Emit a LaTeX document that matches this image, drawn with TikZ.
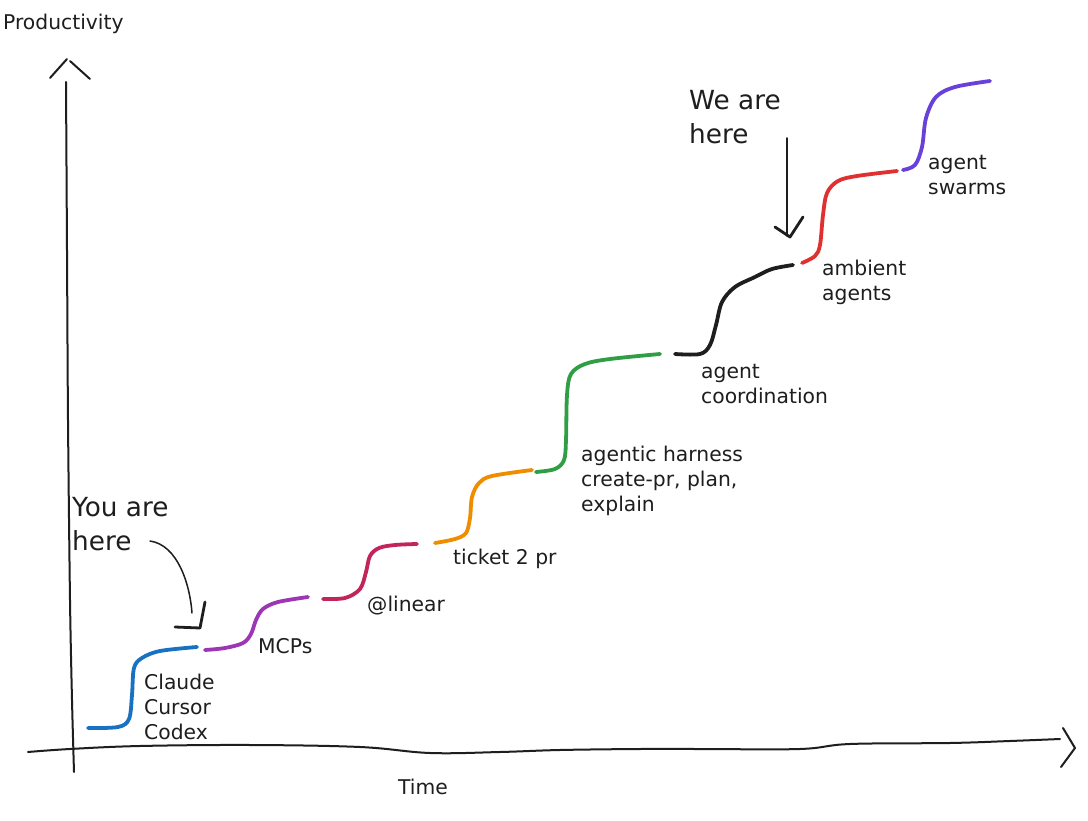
\documentclass[tikz,border=0pt]{standalone}
\usepackage{fontspec}
\setmainfont{DejaVu Sans}
\usetikzlibrary{calc}
\definecolor{ink}{HTML}{1E1E1E}
\definecolor{cblue}{HTML}{1971C2}
\definecolor{cpurple}{HTML}{9C36B5}
\definecolor{ccrimson}{HTML}{C2255C}
\definecolor{corange}{HTML}{F08C00}
\definecolor{cgreen}{HTML}{2F9E44}
\definecolor{cred}{HTML}{E03131}
\definecolor{cviolet}{HTML}{6741D9}
\begin{document}
\begin{tikzpicture}[x=1pt,y=-1pt,
  stair/.style={line width=3.8pt, line cap=round, line join=round},
  axisline/.style={ink, line width=2pt, line cap=round, line join=round},
  pointer/.style={ink, line width=1.5pt, line cap=round, line join=round},
  tip/.style={ink, line width=2.8pt, line cap=round, line join=round},
  lbl/.style={ink, inner sep=0pt, anchor=west, align=left, font=\fontsize{20.3}{25}\selectfont},
  big/.style={ink, inner sep=0pt, anchor=west, align=left, font=\fontsize{26.3}{34}\selectfont}]
\useasboundingbox[fill=white] (0,0) rectangle (1088,821);

% axes
\draw[axisline] plot[smooth, tension=0.5] coordinates {(66,82) (67,250) (68,420) (70,600) (72,700) (74,772)};
\draw[axisline] (50,78) -- (67,59);
\draw[axisline] (70,61) -- (90,79);
\draw[axisline] plot[smooth, tension=0.6] coordinates {(28,752) (70,749) (140,746) (250,745) (360,747) (430,753) (500,752) (560,750) (640,749) (700,749) (800,749) (850,744) (950,743) (1010,741) (1060,739)};
\draw[axisline] (1063,728) -- (1075,748) -- (1061,767);

% steps
\draw[stair, cblue] plot[smooth, tension=0.55] coordinates {(88,728) (118,727) (129,719) (132,695) (134,668) (142,658) (160,651) (197,647)};
\draw[stair, cpurple] plot[smooth, tension=0.55] coordinates {(205,650) (225,648) (243,643) (251,634) (256,620) (263,609) (278,602) (308,597)};
\draw[stair, ccrimson] plot[smooth, tension=0.55] coordinates {(323,599) (345,598) (360,589) (366,572) (370,556) (379,548) (395,545) (417,544)};
\draw[stair, corange] plot[smooth, tension=0.55] coordinates {(435,543) (455,539) (466,533) (470,518) (472,497) (479,483) (492,476) (532,470)};
\draw[stair, cgreen] plot[smooth, tension=0.55] coordinates {(536,472) (555,469) (564,460) (566,440) (567,395) (571,374) (585,364) (610,359) (660,354)};
\draw[stair, ink] plot[smooth, tension=0.55] coordinates {(675,354) (700,354) (710,345) (716,325) (722,302) (735,287) (755,277) (772,269) (793,265)};
\draw[stair, cred] plot[smooth, tension=0.55] coordinates {(802,263) (815,256) (820,245) (823,215) (827,193) (838,181) (857,176) (897,171)};
\draw[stair, cviolet] plot[smooth, tension=0.55] coordinates {(903,170) (915,165) (922,147) (926,118) (936,97) (955,87) (990,81)};

% labels
\node[lbl] (prod) at (3,24) {Productivity};
\node[lbl] (time) at (398,787) {Time};
\node[lbl] (claude) at (144,707) {Claude\\Cursor\\Codex};
\node[lbl] (mcps) at (258,646) {MCPs};
\node[lbl] (linear) at (367,606) {@linear};
\node[lbl] (ticket) at (453,559) {ticket 2 pr};
\node[lbl] (harness) at (581,481) {agentic harness\\create-pr, plan,\\explain};
\node[lbl] (coord) at (701,384) {agent\\coordination};
\node[lbl] (ambient) at (822,282) {ambient\\agents};
\node[lbl] (swarms) at (928,175) {agent\\swarms};
\node[big] (you) at (72,524) {You are\\here};
\node[big] (we) at (689,117) {We are\\here};

% pointers
\coordinate (youS) at (150,541);
\coordinate (youE) at (192,613);
\draw[pointer] (youS) .. controls (178,545) and (190,585) .. (youE);
\draw[tip] (175,627) -- (200,628) -- (205,602);
\coordinate (weS) at (787,138);
\coordinate (weE) at (787,236);
\draw[pointer] (weS) -- (weE);
\draw[tip] (775,227) -- (790,237) -- (803,217);
\end{tikzpicture}
\end{document}
